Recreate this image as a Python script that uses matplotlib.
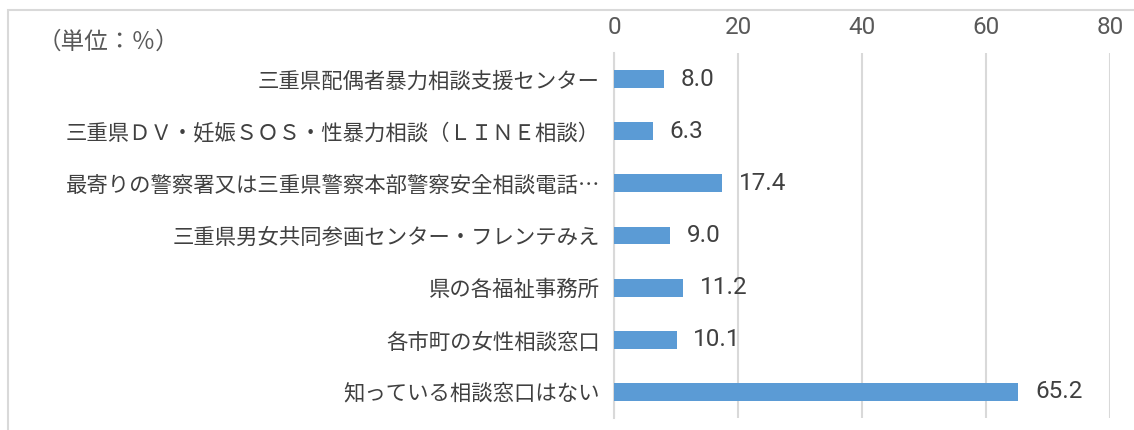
import matplotlib.pyplot as plt
from matplotlib.patches import Rectangle

plt.rcParams["font.family"] = ["Noto Sans CJK JP", "DejaVu Sans"]

labels = [
    "三重県配偶者暴力相談支援センター",
    "三重県ＤＶ・妊娠ＳＯＳ・性暴力相談（ＬＩＮＥ相談）",
    "最寄りの警察署又は三重県警察本部警察安全相談電話…",
    "三重県男女共同参画センター・フレンテみえ",
    "県の各福祉事務所",
    "各市町の女性相談窓口",
    "知っている相談窓口はない",
]
values = [8.0, 6.3, 17.4, 9.0, 11.2, 10.1, 65.2]
xticks = [0, 20, 40, 60, 80]

text_col = "#404040"
bar_col = "#5B9BD5"
grid_col = "#D9D9D9"
num_font = ["Roboto", "DejaVu Sans"]

fig = plt.figure(figsize=(11.34, 4.30), dpi=100)
fig.patches.append(Rectangle((8 / 1134, -0.1), 1.2, 1 - 10 / 430 + 0.1,
                             transform=fig.transFigure, fill=False,
                             edgecolor=grid_col, linewidth=1.5))

ax = fig.add_axes((614 / 1134, 1 - 418 / 430, 496 / 1134, (418 - 53) / 430))
y = list(range(len(labels)))
bars = ax.barh(y, values, height=0.345, color=bar_col, zorder=3)
ax.set_xlim(0, 80)
ax.set_ylim(len(labels) - 0.5, -0.5)
ax.set_yticks(y)
ax.set_yticklabels(labels, fontsize=15.4, color=text_col)
ax.set_xticks(xticks)
ax.set_xticklabels([str(t) for t in xticks], fontsize=17.5, color="#595959",
                   family=num_font)
ax.xaxis.tick_top()
ax.tick_params(axis="x", length=0, pad=10)
ax.tick_params(axis="y", length=0, pad=10)
ax.grid(axis="x", color=grid_col, linewidth=1.5, zorder=0)
for s in ["top", "right", "bottom"]:
    ax.spines[s].set_visible(False)
ax.spines["left"].set_color(grid_col)
ax.spines["left"].set_linewidth(1.5)

for b, v in zip(bars, values):
    ax.annotate(f"{v:.1f}", (v, b.get_y() + b.get_height() / 2),
                xytext=(12, 0), textcoords="offset points",
                ha="left", va="center", fontsize=17.5, color=text_col,
                family=num_font)

fig.text(38 / 1134, 1 - 42 / 430, "（単位：％）", fontsize=17, color="#595959",
         ha="left", va="center")

fig.savefig("out.png", dpi=100)
